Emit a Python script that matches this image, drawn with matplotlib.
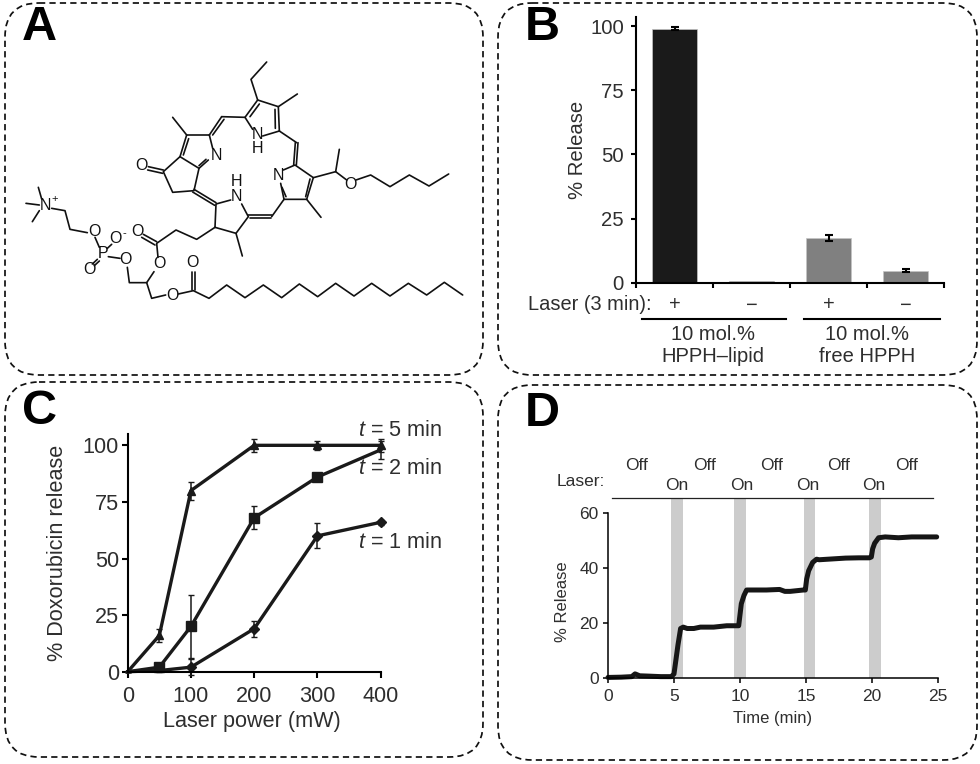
import matplotlib
matplotlib.use("Agg")
import matplotlib.pyplot as plt
from matplotlib.patches import FancyBboxPatch

plt.rcParams['font.family'] = ['Liberation Sans', 'DejaVu Sans']
plt.rcParams['mathtext.fontset'] = 'custom'
plt.rcParams['mathtext.rm'] = 'Liberation Sans'
plt.rcParams['mathtext.it'] = 'Liberation Sans:italic'
plt.rcParams['mathtext.default'] = 'regular'

INK = '#2e2e2e'
W, H = 980, 764

# ---- Panel B data
b_positions = [0.5, 1.5, 2.5, 3.5]
b_values = [99, 0.7, 17.5, 4.8]
b_errors = [0.5, 0.1, 1.0, 0.5]
b_colors = ['#1a1a1a', '#1a1a1a', '#808080', '#808080']
b_signs = ['+', '\u2212', '+', '\u2212']
b_yticks = [0, 25, 50, 75, 100]

# ---- Panel C data
c_power = [0, 50, 100, 200, 300, 400]
c_t5 = [0, 16, 80, 100, 100, 100]
c_t5_err = [0, 3, 4, 3, 2, 3]
c_t2 = [0, 2, 20, 68, 86, 98]
c_t2_err = [0, 1, 14, 5, 1, 4]
c_t1 = [0, 0.5, 2, 19, 60, 66]
c_t1_err = [0, 0.5, 3.5, 3.5, 5.5, 1]

# ---- Panel D data
d_time = [0, 1, 1.8, 2.05, 2.4, 3, 4, 4.8, 5.0, 5.1, 5.3, 5.5, 5.7, 6, 6.5, 7, 8, 9, 9.9,
          10.0, 10.1, 10.3, 10.5, 11, 12, 13, 13.4, 13.8, 14.2, 14.8, 14.95, 15.05, 15.2,
          15.5, 15.8, 16, 17, 18, 19, 19.8, 19.95, 20.05, 20.2, 20.5, 21, 22, 23, 24, 24.9]
d_release = [0.2, 0.3, 0.5, 1.5, 0.8, 0.7, 0.5, 0.5, 1.5, 5, 12, 18, 18.5, 18, 18, 18.5, 18.5, 19, 19,
             23, 27, 30, 32, 32, 32, 32.2, 31.5, 31.5, 31.7, 32, 32,
             36, 39, 42, 43.2, 43, 43.3, 43.6, 43.7, 43.7, 44, 47, 49, 51, 51.3, 51, 51.3, 51.3, 51.3]
d_on_start = [4.74, 9.54, 14.83, 19.8]
d_on_end = [5.65, 10.44, 15.7, 20.7]
d_off_x = [637, 705, 772, 839, 907]
d_on_x = [677, 742, 808, 874]

# ---- Panel A: chemical structure, bonds in 3x-pixel drawing units
bonds = [
    # palmitoyl chain
    [(535, 882), (580, 872), (627, 895), (680, 855), (735, 893), (790, 855), (845, 893), (898, 852),
     (953, 890), (1007, 850), (1062, 888), (1115, 850), (1170, 888), (1225, 850), (1280, 885),
     (1333, 847), (1388, 885)],
    [(575, 870), (575, 815)], [(585, 870), (585, 815)],
    # glycerol
    [(497, 885), (455, 895), (440, 848), (388, 848), (382, 802)],
    [(440, 848), (462, 815)],
    # ester to ring
    [(474, 772), (470, 730), (528, 690), (590, 718), (645, 682)],
    [(470, 725), (430, 703)], [(465, 735), (425, 712)],
    # lower pyrroline
    [(645, 682), (648, 612), (692, 600)],
    [(725, 612), (745, 650), (708, 700), (645, 682)],
    [(708, 700), (727, 768)],
    [(745, 645), (815, 645)], [(750, 653), (812, 653)],
    [(815, 650), (852, 598)],
    # right pyrrole
    [(852, 598), (920, 598), (940, 533), (885, 495), (850, 510)],
    [(842, 550), (852, 598)], [(846, 562), (858, 590)],
    [(917, 590), (930, 537)],
    [(920, 598), (963, 652)],
    [(940, 533), (1007, 515), (1018, 448)],
    [(1007, 515), (1040, 540)],
    [(1068, 540), (1112, 525), (1170, 560), (1228, 525), (1287, 558), (1346, 522)],
    # meso right
    [(881, 495), (886, 428)], [(889, 495), (894, 428)],
    [(890, 428), (838, 393)],
    # top pyrrole
    [(838, 393), (835, 320), (773, 300), (735, 352), (758, 388)],
    [(788, 408), (838, 393)],
    [(826, 385), (825, 328)], [(778, 312), (750, 350)],
    [(835, 320), (892, 282)],
    [(773, 300), (753, 238), (800, 186)],
    # meso left
    [(735, 352), (665, 350)],
    [(665, 350), (628, 405)], [(672, 358), (638, 405)],
    # left pyrroline
    [(628, 405), (560, 405), (540, 470), (597, 505), (625, 480)],
    [(628, 405), (638, 445)],
    [(566, 416), (550, 465)], [(597, 497), (618, 478)],
    [(560, 405), (518, 352)],
    # cyclopentanone
    [(540, 470), (490, 515), (518, 577), (582, 572), (597, 505)],
    [(490, 510), (445, 500)], [(488, 520), (443, 510)],
    [(582, 568), (648, 608)], [(578, 576), (644, 616)],
    # choline phosphate
    [(125, 597), (115, 562)], [(118, 615), (78, 610)], [(118, 632), (97, 665)],
    [(155, 625), (195, 632), (210, 688), (262, 698)],
    [(285, 712), (298, 742)], [(322, 745), (335, 733)],
    [(325, 770), (360, 775)],
    [(292, 778), (277, 792)], [(298, 783), (283, 797)],
]
atoms = [('O', 425, 498), ('N', 648, 465), ('N', 772, 404), ('H', 772, 445), ('N', 835, 527),
         ('N', 708, 589), ('H', 710, 546), ('O', 1052, 553), ('O', 412, 695), ('O', 477, 790),
         ('O', 578, 787), ('O', 518, 885), ('O', 377, 778), ('O', 283, 695), ('O', 345, 716),
         ('O', 267, 808), ('P', 308, 762), ('N', 135, 615), ('+', 165, 597), ('-', 372, 700)]

frames = [(5, 3, 483, 375), (498, 3, 977, 375), (5, 382, 483, 757), (498, 385, 977, 760)]
letters = [('A', 39, 27), ('B', 542, 28), ('C', 39, 412), ('D', 542, 414)]

fig = plt.figure(figsize=(W / 100, H / 100), dpi=100, facecolor='white')
ov = fig.add_axes([0, 0, 1, 1], zorder=0)
ov.set_xlim(0, W)
ov.set_ylim(H, 0)
ov.axis('off')


def px_axes(l, t, r, b):
    a = fig.add_axes([l / W, 1 - b / H, (r - l) / W, (b - t) / H], zorder=2)
    a.patch.set_visible(False)
    a.spines[['top', 'right']].set_visible(False)
    return a


def style(a, lw, size, length, padx, pady):
    a.spines[['left', 'bottom']].set_linewidth(lw)
    a.tick_params(width=lw, length=length, labelsize=size, colors='black', labelcolor=INK)
    a.tick_params(axis='x', pad=padx)
    a.tick_params(axis='y', pad=pady)


for (x0, y0, x1, y1) in frames:
    ov.add_patch(FancyBboxPatch((x0, y0), x1 - x0, y1 - y0, boxstyle='round,pad=0,rounding_size=34',
                                fill=False, ec='#111111', lw=1.25, ls=(0, (3.6, 2.4))))
for s, x, y in letters:
    ov.text(x, y, s, fontsize=35, fontweight='bold', color='black', ha='center', va='center')

# Panel A
for chain in bonds:
    ov.plot([p[0] / 3 for p in chain], [p[1] / 3 for p in chain], color='#111111', lw=1.2,
            solid_capstyle='round', solid_joinstyle='round')
for s, x, y in atoms:
    small = s in '+-'
    ov.text(x / 3, y / 3, s, fontsize=8 if small else 11.5, color='#111111', ha='center', va='center')

# Panel B
axb = px_axes(636, 17, 944, 283)
axb.bar(b_positions, b_values, width=0.575, color=b_colors, edgecolor='#c4c4c4', linewidth=0.5)
axb.errorbar(b_positions[0], b_values[0], yerr=b_errors[0], fmt='none', ecolor='black', elinewidth=1.5, capsize=3, capthick=1.5)
axb.errorbar(b_positions[2:], b_values[2:], yerr=b_errors[2:], fmt='none', ecolor='black', elinewidth=1.5, capsize=3, capthick=1.5)
axb.set_xlim(0, 4)
axb.set_ylim(0, 266 / 2.57)
axb.set_xticks([0, 1, 2, 3, 4])
axb.set_xticklabels([])
axb.set_yticks(b_yticks)
style(axb, 1.5, 14.6, 3.8, 3, 5)
axb.set_ylabel('% Release', fontsize=14.6, color=INK, va='center')
axb.yaxis.set_label_coords(577, 150, transform=ov.transData)
for x, s in zip(b_positions, b_signs):
    ov.text(636 + x * 77, 305, s, fontsize=14.4, color=INK, ha='center', va='center')
ov.text(528, 304, 'Laser (3 min):', fontsize=14.4, color=INK, ha='left', va='center')
ov.plot([642, 786], [319, 319], color='black', lw=1.5)
ov.plot([804, 940], [319, 319], color='black', lw=1.5)
for xc, l1, l2 in [(713, '10 mol.%', 'HPPH\u2013lipid'), (867, '10 mol.%', 'free HPPH')]:
    ov.text(xc, 334, l1, fontsize=14.5, color=INK, ha='center', va='center')
    ov.text(xc, 357, l2, fontsize=14.5, color=INK, ha='center', va='center')

# Panel C
axc = px_axes(127.7, 434, 380.7, 671.7)
series = [(c_t5, c_t5_err, '^', 5.5, [1, 2, 3, 4, 5]), (c_t2, c_t2_err, 's', 6.8, [1, 2, 3, 4]),
          (c_t1, c_t1_err, 'D', 5.0, [2, 3, 4, 5])]
for vals, errs, m, ms, every in series:
    axc.errorbar(c_power, vals, yerr=errs, color='#1a1a1a', lw=2.4, marker=m, ms=ms, markevery=every,
                 elinewidth=1.1, capsize=2.5, capthick=1.0, clip_on=False)
axc.set_xlim(0, 400)
axc.set_ylim(0, 105)
axc.set_xticks([0, 100, 200, 300, 400])
axc.set_yticks([0, 25, 50, 75, 100])
style(axc, 1.5, 15.6, 4.2, 6, 2)
axc.set_xlabel('Laser power (mW)', fontsize=15.6, color=INK, va='center')
axc.xaxis.set_label_coords(252, 722, transform=ov.transData)
axc.set_ylabel('% Doxorubicin release', fontsize=15.6, color=INK, va='center')
axc.yaxis.set_label_coords(57, 553, transform=ov.transData)
for s, y in [('5', 431), ('2', 468), ('1', 542)]:
    ov.text(442, y, r'$\mathit{t}$ = ' + s + ' min', fontsize=15.6, color=INK, ha='right', va='center')

# Panel D
axd = px_axes(608, 513, 938, 678)
for a0, a1 in zip(d_on_start, d_on_end):
    axd.axvspan(a0, a1, color='#cccccc', lw=0, zorder=0)
    ov.fill_between([608 + a0 * 13.2, 608 + a1 * 13.2], 498, 513, color='#cccccc', lw=0)
axd.plot(d_time, d_release, color='#161616', lw=3.6, solid_joinstyle='round', solid_capstyle='round', clip_on=False)
axd.set_xlim(0, 25)
axd.set_ylim(0, 60)
axd.set_xticks([0, 5, 10, 15, 20, 25])
axd.set_yticks([0, 20, 40, 60])
style(axd, 1.1, 12.5, 3.6, 4.5, 3)
axd.set_xlabel('Time (min)', fontsize=12, color=INK, va='center')
axd.xaxis.set_label_coords(773, 719, transform=ov.transData)
axd.set_ylabel('% Release', fontsize=12, color=INK, va='center')
axd.yaxis.set_label_coords(562, 602, transform=ov.transData)
ov.plot([612, 933], [498, 498], color='#222222', lw=0.9)
ov.text(557, 482, 'Laser:', fontsize=12.5, color=INK, ha='left', va='center')
for x in d_off_x:
    ov.text(x, 465, 'Off', fontsize=12.5, color=INK, ha='center', va='center')
for x in d_on_x:
    ov.text(x, 486, 'On', fontsize=12.5, color=INK, ha='center', va='center')

fig.savefig('out.png', dpi=100)
